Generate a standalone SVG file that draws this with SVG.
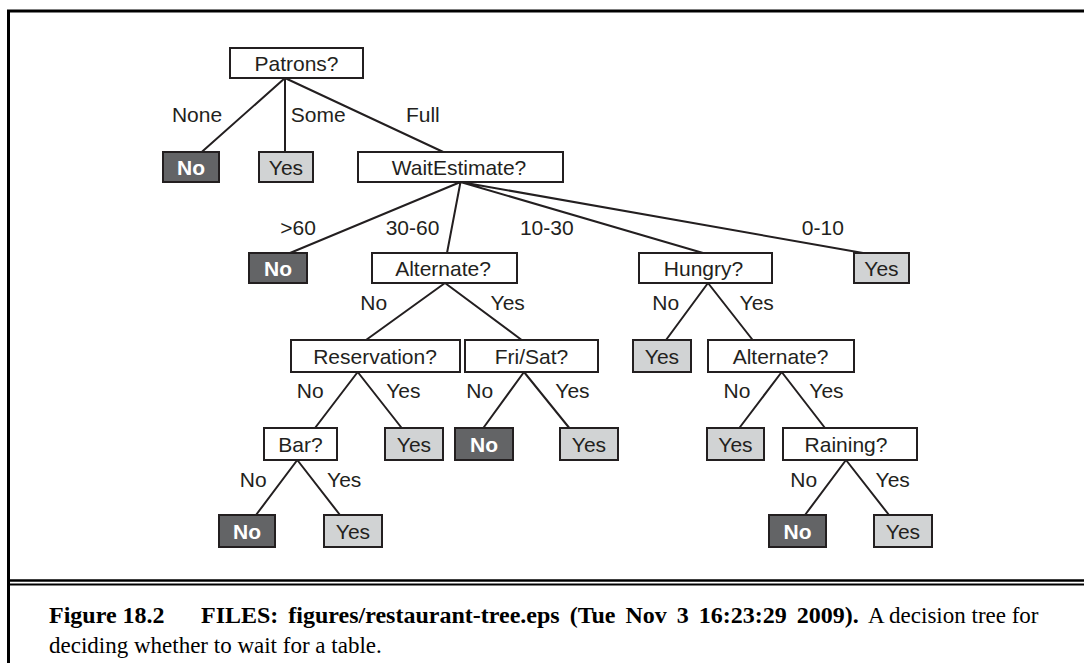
<svg xmlns="http://www.w3.org/2000/svg" width="1084" height="663" viewBox="0 0 1084 663">
<style>
.box{stroke:#231f20;stroke-width:2}
.q{fill:#ffffff}
.no{fill:#636466}
.yes{fill:#d1d3d4}
.t{font-family:"Liberation Sans",Arial,sans-serif;font-size:21px;fill:#231f20;text-anchor:middle}
.tn{font-family:"Liberation Sans",Arial,sans-serif;font-size:21px;font-weight:bold;fill:#ffffff;text-anchor:middle}
.lbl{font-family:"Liberation Sans",Arial,sans-serif;font-size:21px;fill:#231f20;text-anchor:middle}
.edge{stroke:#231f20;stroke-width:2;fill:none}
.cap{font-family:"Liberation Serif","Times New Roman",serif;font-size:23px;fill:#000000}
.capb{font-weight:bold;font-size:24px}
</style>
<rect x="0" y="0" width="1084" height="663" fill="#ffffff"/>
<g id="frame" stroke="#000000" fill="none">
<line x1="7" y1="11" x2="1084" y2="11" stroke-width="3"/>
<line x1="8.5" y1="10" x2="8.5" y2="663" stroke-width="3"/>
<line x1="7" y1="580.5" x2="1084" y2="580.5" stroke-width="2.5"/>
<line x1="7" y1="584.5" x2="1084" y2="584.5" stroke-width="2"/>
</g>
<g id="connectors">
<path class="edge" d="M285 78L201.7 152M285 78L285 152M285 78L443.3 152"/>
<path class="edge" d="M460.5 182L290 253M460.5 182L447 253M460.5 182L703 253M460.5 182L863 253"/>
<path class="edge" d="M445 283L366 340M445 283L521.7 340"/>
<path class="edge" d="M708 283L666 340M708 283L752.7 340"/>
<path class="edge" d="M357.7 372L315 428M357.7 372L401.7 428"/>
<path class="edge" d="M524 372L483.3 428M524 372L569.3 428"/>
<path class="edge" d="M781.7 372L739.3 428M781.7 372L825 428"/>
<path class="edge" d="M297.3 460L256 515M297.3 460L340 515"/>
<path class="edge" d="M846 460L805 515M846 460L889 515"/>
</g>
<g id="edge-labels">
<text class="lbl" x="197" y="121.5">None</text>
<text class="lbl" x="318.3" y="121.5">Some</text>
<text class="lbl" x="422.8" y="121.5">Full</text>
<text class="lbl" x="298" y="235">&gt;60</text>
<text class="lbl" x="412.5" y="235">30-60</text>
<text class="lbl" x="546.8" y="235">10-30</text>
<text class="lbl" x="822.8" y="235">0-10</text>
<text class="lbl" x="373.7" y="310">No</text>
<text class="lbl" x="507.7" y="310">Yes</text>
<text class="lbl" x="665.8" y="310">No</text>
<text class="lbl" x="756.7" y="310">Yes</text>
<text class="lbl" x="310.3" y="398.3">No</text>
<text class="lbl" x="403.3" y="398.3">Yes</text>
<text class="lbl" x="479.7" y="398.3">No</text>
<text class="lbl" x="572.5" y="398.3">Yes</text>
<text class="lbl" x="737" y="398.3">No</text>
<text class="lbl" x="826.5" y="398.3">Yes</text>
<text class="lbl" x="253.3" y="486.7">No</text>
<text class="lbl" x="344.2" y="486.7">Yes</text>
<text class="lbl" x="803.7" y="486.7">No</text>
<text class="lbl" x="892.7" y="486.7">Yes</text>
</g>
<g id="n-patrons"><rect class="box q" x="230" y="48" width="133" height="30"/><text class="t" x="296.5" y="70.5">Patrons?</text></g>
<g id="n-no1"><rect class="box no" x="163" y="152" width="56" height="30"/><text class="tn" x="191" y="174.5">No</text></g>
<g id="n-yes1"><rect class="box yes" x="259" y="152" width="54" height="30"/><text class="t" x="286" y="174.5">Yes</text></g>
<g id="n-wait"><rect class="box q" x="358" y="152" width="205" height="30"/><text class="t" x="459" y="174.5">WaitEstimate?</text></g>
<g id="n-no2"><rect class="box no" x="249" y="253" width="58" height="30"/><text class="tn" x="278" y="275.5">No</text></g>
<g id="n-alt1"><rect class="box q" x="372" y="253" width="145" height="30"/><text class="t" x="443" y="275.5">Alternate?</text></g>
<g id="n-hungry"><rect class="box q" x="639" y="253" width="133" height="30"/><text class="t" x="703.5" y="275.5">Hungry?</text></g>
<g id="n-yes2"><rect class="box yes" x="854" y="253" width="55" height="30"/><text class="t" x="881.5" y="275.5">Yes</text></g>
<g id="n-res"><rect class="box q" x="291" y="340" width="169" height="32"/><text class="t" x="375" y="363.5">Reservation?</text></g>
<g id="n-frisat"><rect class="box q" x="465" y="340" width="133" height="32"/><text class="t" x="531.5" y="363.5">Fri/Sat?</text></g>
<g id="n-yes3"><rect class="box yes" x="633" y="340" width="58" height="32"/><text class="t" x="662" y="363.5">Yes</text></g>
<g id="n-alt2"><rect class="box q" x="708" y="340" width="146" height="32"/><text class="t" x="780.5" y="363.5">Alternate?</text></g>
<g id="n-bar"><rect class="box q" x="264" y="428" width="73" height="32"/><text class="t" x="300.5" y="451.5">Bar?</text></g>
<g id="n-yes4"><rect class="box yes" x="385" y="428" width="58" height="32"/><text class="t" x="414" y="451.5">Yes</text></g>
<g id="n-no3"><rect class="box no" x="455" y="428" width="58" height="32"/><text class="tn" x="484" y="451.5">No</text></g>
<g id="n-yes5"><rect class="box yes" x="560" y="428" width="58" height="32"/><text class="t" x="589" y="451.5">Yes</text></g>
<g id="n-yes6"><rect class="box yes" x="707" y="428" width="57" height="32"/><text class="t" x="735.5" y="451.5">Yes</text></g>
<g id="n-rain"><rect class="box q" x="783" y="428" width="134" height="32"/><text class="t" x="846" y="451.5">Raining?</text></g>
<g id="n-no4"><rect class="box no" x="219" y="515" width="56" height="32"/><text class="tn" x="247" y="538.5">No</text></g>
<g id="n-yes7"><rect class="box yes" x="324" y="515" width="58" height="32"/><text class="t" x="353" y="538.5">Yes</text></g>
<g id="n-no5"><rect class="box no" x="769" y="515" width="57" height="32"/><text class="tn" x="797.5" y="538.5">No</text></g>
<g id="n-yes8"><rect class="box yes" x="874" y="515" width="58" height="32"/><text class="t" x="903" y="538.5">Yes</text></g>
<g id="caption">
<text class="cap" x="49" y="623"><tspan class="capb">Figure 18.2</tspan><tspan class="capb" x="201" word-spacing="4">FILES: figures/restaurant-tree.eps (Tue Nov 3 16:23:29 2009).</tspan><tspan x="868">A decision tree for</tspan></text>
<text class="cap" x="49" y="653">deciding whether to wait for a table.</text>
</g>
</svg>
